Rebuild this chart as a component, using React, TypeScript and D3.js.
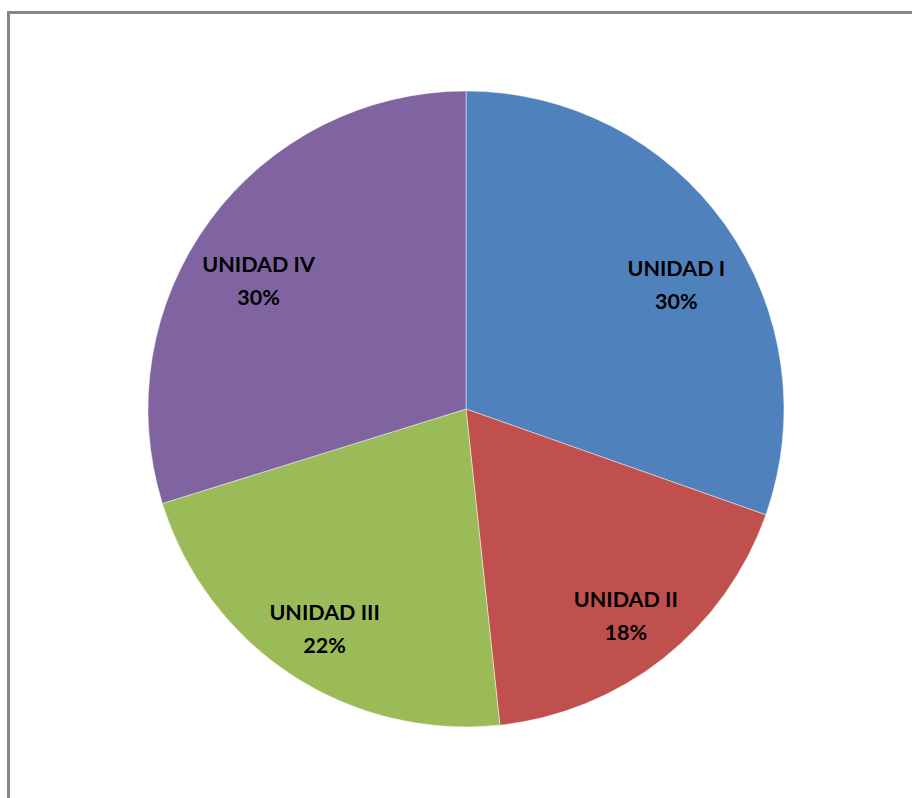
import React from 'react';
import * as d3 from 'd3';

const categories = ['UNIDAD I', 'UNIDAD II', 'UNIDAD III', 'UNIDAD IV'];
const values = [30.4, 17.9, 21.9, 29.8];
const colors = ['#4F81BD', '#C0504D', '#9BBB59', '#8064A2'];

const width = 912;
const height = 798;
const cx = 466;
const cy = 409;
const radius = 318;

const App = () => {
  const total = d3.sum(values);
  const pieGen = d3.pie<number>().sort(null).value((d) => d);
  const arcs = pieGen(values);
  const arcGen = d3.arc<d3.PieArcDatum<number>>().innerRadius(0).outerRadius(radius);
  const pct = d3.format('.0%');

  return (
    <svg
      width={width}
      height={height}
      style={{ position: 'absolute', left: 0, top: 0, display: 'block', background: '#fff' }}
    >
      <rect x={8.5} y={12.5} width={1000} height={1000} fill="#fff" stroke="#878787" strokeWidth={3} />
      <g transform={`translate(${cx},${cy})`}>
        {arcs.map((a, i) => (
          <path
            key={categories[i]}
            d={arcGen(a) || ''}
            fill={colors[i]}
            stroke="rgba(255,255,255,0.45)"
            strokeWidth={1}
          />
        ))}
        {arcs.map((a, i) => {
          const mid = (a.startAngle + a.endAngle) / 2;
          // rough "best fit" placement, like excel's: a slightly flattened ring, nudged down
          const x = Math.sin(mid) * radius * 0.81;
          const y = -Math.cos(mid) * radius * 0.765 + radius * 0.049;
          return (
            <text
              key={'l' + i}
              x={x}
              y={y}
              textAnchor="middle"
              fontFamily="Lato, 'Open Sans', sans-serif"
              fontWeight="bold"
              fontSize={21.5}
              fill="#000"
            >
              <tspan x={x} dy={-8}>{categories[i]}</tspan>
              <tspan x={x} dy={33}>{pct(values[i] / total)}</tspan>
            </text>
          );
        })}
      </g>
    </svg>
  );
};

export default App;
